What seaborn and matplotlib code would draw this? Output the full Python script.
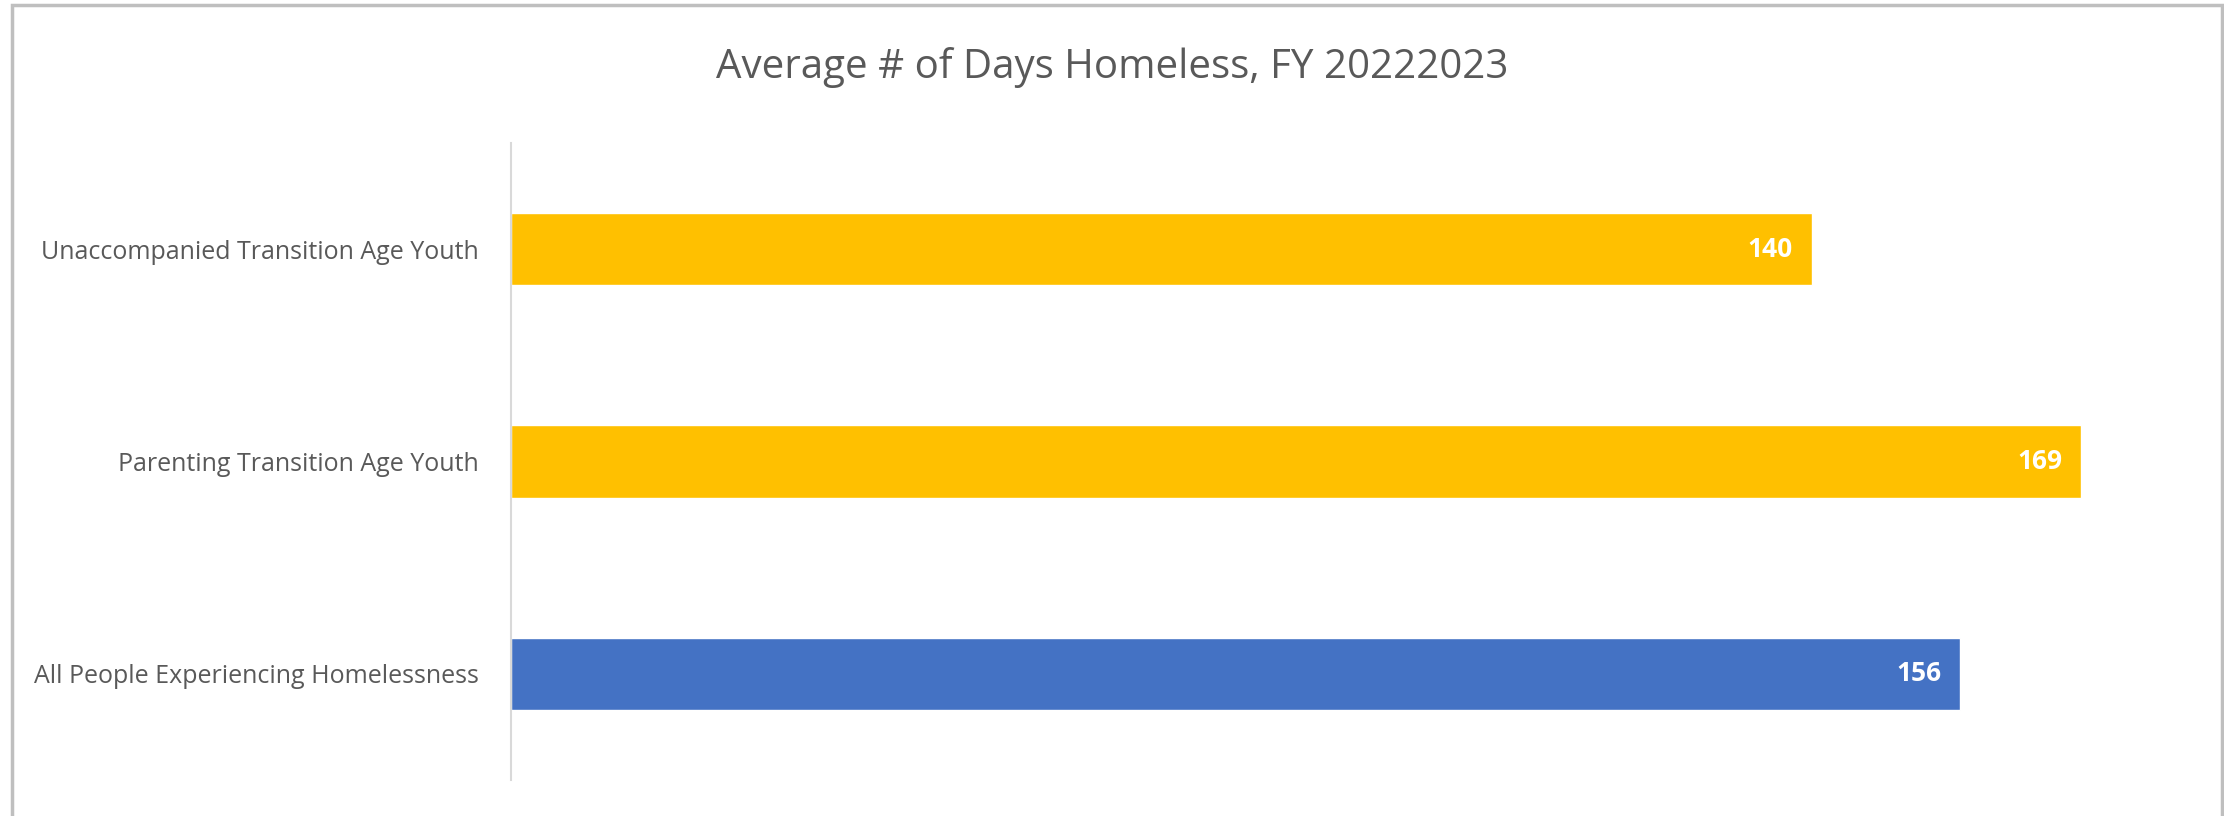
import numpy as np
import pandas as pd
import matplotlib
matplotlib.use("Agg")
import matplotlib.pyplot as plt
import seaborn as sns
from matplotlib.patches import Rectangle

categories = ["Unaccompanied Transition Age Youth",
              "Parenting Transition Age Youth",
              "All People Experiencing Homelessness"]
days = [140, 169, 156]
bar_colors = ["#FFC000", "#FFC000", "#4472C4"]
title = "Average # of Days Homeless, FY 20222023"

sns.set_style("white")
plt.rcParams['font.family'] = ['Open Sans', 'DejaVu Sans']

df = pd.DataFrame({"group": categories, "days": days})

fig = plt.figure(figsize=(22.24, 8.16), dpi=100)
ax = fig.add_axes([0.2298, 0.0441, 0.7518, 0.7807])

sns.barplot(data=df, x="days", y="group", hue="group",
            palette=dict(zip(categories, bar_colors)),
            orient="h", width=0.34, legend=False, saturation=1, ax=ax)

ax.set_xlim(0, 180)
ax.set_ylim(2.5, -0.5)
ax.set_xticks([])
ax.set_xlabel("")
ax.set_ylabel("")
ax.tick_params(axis="y", length=0, pad=23, labelsize=18, labelcolor="#595959")

for s in ["top", "right", "bottom"]:
    ax.spines[s].set_visible(False)
ax.spines["left"].set_color("#D9D9D9")
ax.spines["left"].set_linewidth(1.5)

for i, v in enumerate(days):
    ax.text(v - 2, i, str(v), ha="right", va="center",
            color="white", fontsize=19, fontweight="bold")

fig.text(0.5, 1 - 67 / 816, title, ha="center", va="center",
         fontsize=29, color="#595959")

# outer chart frame (no bottom edge visible)
fig.patches.append(Rectangle((12 / 2224, -0.1), (2222 - 12) / 2224, 1.1 - 5 / 816,
                             transform=fig.transFigure, fill=False,
                             edgecolor="#BFBFBF", linewidth=2.5))

fig.savefig("out.png", dpi=100)
